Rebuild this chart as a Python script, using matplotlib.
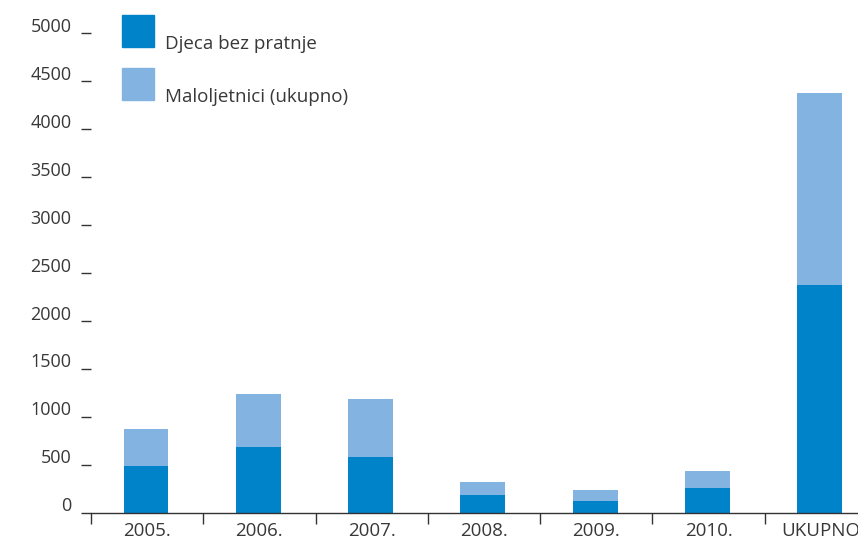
import numpy as np
import matplotlib
matplotlib.use("Agg")
import matplotlib.pyplot as plt
from matplotlib.patches import Rectangle
from matplotlib.transforms import ScaledTranslation

# -----------------------
# Data
# -----------------------
categories = ["2005.", "2006.", "2007.", "2008.", "2009.", "2010.", "UKUPNO"]
unaccompanied = [485, 684, 579, 183, 120, 256, 2375]     # Djeca bez pratnje
minors_total = [872, 1237, 1185, 318, 235, 433, 4379]   # Maloljetnici (ukupno)
yticks = [0, 500, 1000, 1500, 2000, 2500, 3000, 3500, 4000, 4500, 5000]

dark_blue = "#0083C9"
light_blue = "#83B4E1"
text_col = "#383838"

plt.rcParams["font.family"] = ["Open Sans", "DejaVu Sans"]

# -----------------------
# Figure
# -----------------------
fig = plt.figure(figsize=(8.58, 5.41), dpi=100)
ax = fig.add_axes([91 / 858, 28.5 / 541, 786 / 858, 479 / 541])

x = np.arange(len(categories))
upper = np.array(minors_total) - np.array(unaccompanied)
ax.bar(x - 0.01, unaccompanied, width=0.4, color=dark_blue, zorder=2)
ax.bar(x - 0.01, upper, width=0.4, bottom=unaccompanied, color=light_blue, zorder=2)

ax.set_xlim(-0.5, len(categories) - 0.5)
ax.set_ylim(0, 5000)

# spines
for s in ["top", "right", "left"]:
    ax.spines[s].set_visible(False)
ax.spines["bottom"].set_color("#333333")
ax.spines["bottom"].set_linewidth(1.0)

# x: labels at centres, tick marks at category boundaries
ax.set_xticks(x)
ax.set_xticklabels(categories, fontsize=13.5, color=text_col)
ax.set_xticks(np.arange(-0.5, len(categories) + 0.5, 1), minor=True)
ax.tick_params(axis="x", which="major", length=0, pad=7)
ax.tick_params(axis="x", which="minor", length=8, width=1.0, color="#333333", direction="out")

# y: short dashes, labels raised a bit
ax.set_yticks(yticks)
ax.set_yticklabels([str(v) for v in yticks], fontsize=13, color=text_col)
ax.tick_params(axis="y", length=7.5, width=1.0, color="#333333", pad=6.5)
offset = ScaledTranslation(0, 6 / 72, fig.dpi_scale_trans)
for lab in ax.get_yticklabels():
    lab.set_transform(lab.get_transform() + offset)

# -----------------------
# Legend (manual)
# -----------------------
legend_items = [("Djeca bez pratnje", dark_blue, 15), ("Maloljetnici (ukupno)", light_blue, 68)]
for label, col, top_px in legend_items:
    fig.patches.append(Rectangle((122 / 858, (541 - top_px - 32) / 541), 32 / 858, 32 / 541,
                                 transform=fig.transFigure, color=col, figure=fig))
    fig.text(165 / 858, (541 - top_px - 34) / 541, label, fontsize=13.5,
             color=text_col, va="baseline", ha="left")

fig.savefig("out.png", dpi=100)
